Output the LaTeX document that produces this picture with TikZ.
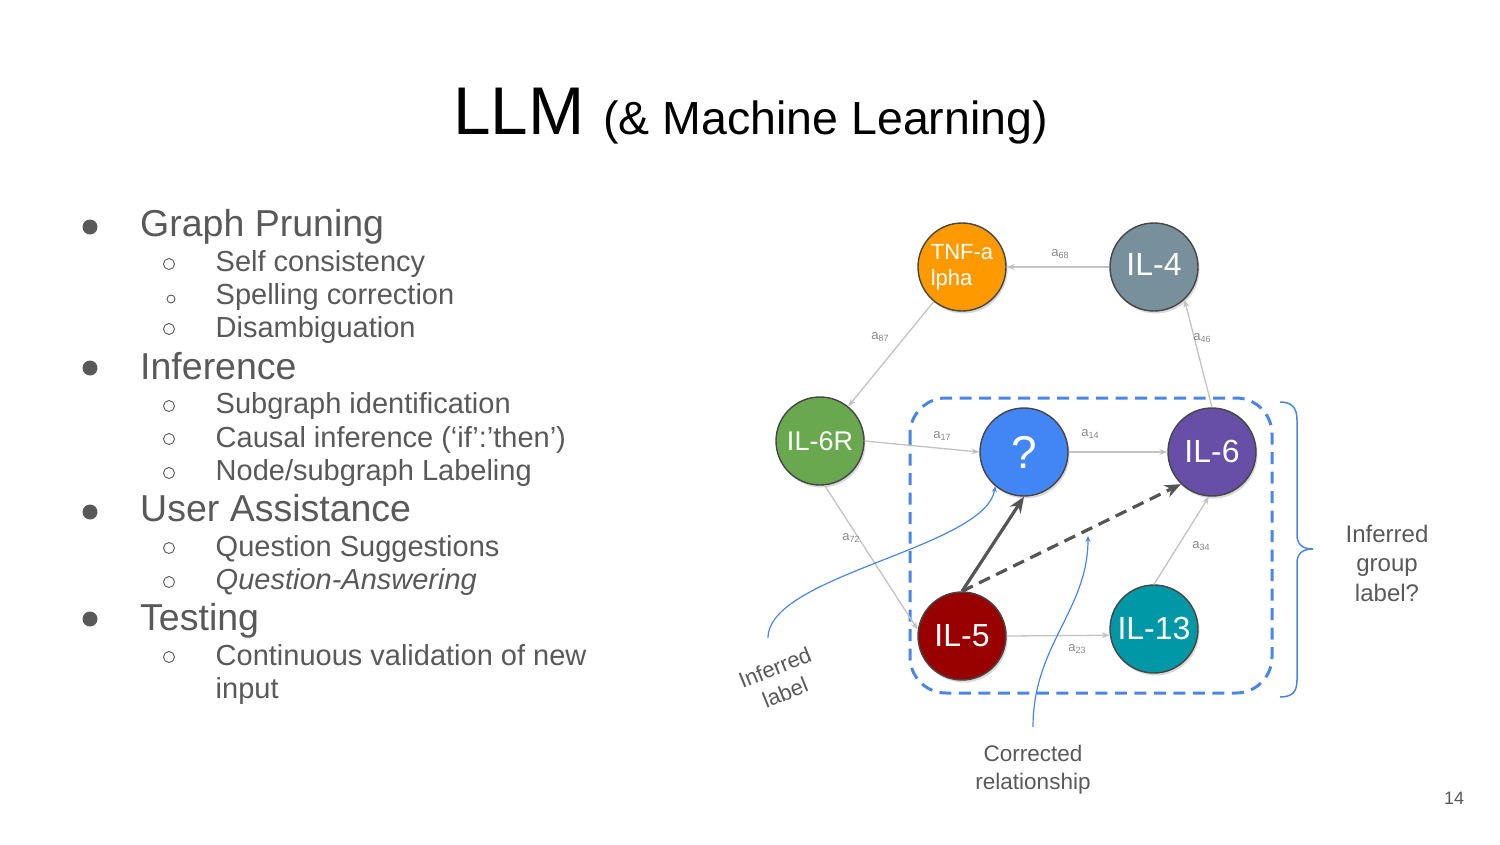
\documentclass[tikz,border=0pt]{standalone}
\usepackage{fontspec}
\setmainfont{Liberation Sans}
\usetikzlibrary{arrows.meta,shadows}
\definecolor{txtgray}{HTML}{595959}
\definecolor{edgegray}{HTML}{C3C3C3}
\definecolor{labgray}{HTML}{8A8A8A}
\definecolor{darkedge}{HTML}{555555}
\definecolor{ringgray}{HTML}{464646}
\definecolor{gblue}{HTML}{4A86E8}
\definecolor{cTNF}{HTML}{FF9900}
\definecolor{cIL4}{HTML}{78909C}
\definecolor{cIL6R}{HTML}{6AA84F}
\definecolor{cQ}{HTML}{4285F4}
\definecolor{cIL6}{HTML}{674EA7}
\definecolor{cIL5}{HTML}{990000}
\definecolor{cIL13}{HTML}{0097A7}
\newcommand{\fsz}[1]{\fontsize{#1}{#1}\selectfont}
\newcommand{\alab}[1]{a\raisebox{-2.5pt}{\fontsize{9}{10}\selectfont #1}}
\begin{document}
\begin{tikzpicture}[x=1pt,y=-1pt,
  gnode/.style={circle, draw=ringgray, line width=1.4pt, minimum size=88pt,
    inner sep=0pt, text=white, font=\fsz{32},
    drop shadow={opacity=0.3, shadow xshift=1.5pt, shadow yshift=-2.5pt}},
  elabel/.style={font=\fsz{13}, text=labgray, inner sep=0pt},
  ledge/.style={draw=edgegray, line width=1.3pt, -{Stealth[length=8pt,width=6pt]}},
  darkarrow/.style={draw=darkedge, line width=3.2pt, -{Stealth[length=16pt,width=13pt]}},
  bcurve/.style={draw=gblue, line width=1.2pt, -{Stealth[length=6pt,width=5pt]}},
  main/.style={anchor=base west, inner sep=0pt, text=txtgray, font=\fsz{37.5}},
  sub/.style={anchor=base west, inner sep=0pt, text=txtgray, font=\fsz{29}},
  note/.style={align=center, text=txtgray, inner sep=0pt},
  dot/.style={fill=txtgray},
  ring/.style={draw=txtgray, line width=0.9pt}
]
\useasboundingbox[fill=white] (0,0) rectangle (1500,844);

% ---- title ----
\node[anchor=base west, inner sep=0pt, font=\fsz{67.5}] (title) at (453,134)
  {LLM {\fsz{46.5}(\& Machine Learning)}};

% ---- bullet list ----
\fill[dot] (90,227) circle (7.5);
\node[main] (b1) at (140,236) {Graph Pruning};
\draw[ring] (169,264) circle (5.5);
\node[sub] (b11) at (215.5,271) {Self consistency};
\draw[ring] (171,299) circle (4);
\node[sub] (b12) at (215.5,304) {Spelling correction};
\draw[ring] (169,329) circle (5.5);
\node[sub] (b13) at (215.5,337) {Disambiguation};

\fill[dot] (90,368) circle (7.5);
\node[main] (b2) at (140,379) {Inference};
\draw[ring] (169,406) circle (5.5);
\node[sub] (b21) at (215.5,413) {Subgraph identification};
\draw[ring] (169,439) circle (5.5);
\node[sub] (b22) at (215.5,447) {Causal inference (‘if’:’then’)};
\draw[ring] (169,473) circle (5.5);
\node[sub] (b23) at (215.5,480) {Node/subgraph Labeling};

\fill[dot] (90,512) circle (7.5);
\node[main] (b3) at (140,521) {User Assistance};
\draw[ring] (169,548) circle (5.5);
\node[sub] (b31) at (215.5,556) {Question Suggestions};
\draw[ring] (169,582) circle (5.5);
\node[sub] (b32) at (215.5,589) {\itshape Question-Answering};

\fill[dot] (90,619) circle (7.5);
\node[main] (b4) at (140,630) {Testing};
\draw[ring] (169,657) circle (5.5);
\node[sub] (b41) at (215.5,665) {Continuous validation of new};
\node[sub] (b41b) at (215.5,698) {input};

% ---- group frame and brace ----
\draw[gblue, line width=3pt, dash pattern=on 12pt off 7.5pt, rounded corners=36pt]
  (910,398) rectangle (1272,693);
\draw[gblue, line width=1.5pt]
  (1280,402) .. controls (1292,402) and (1297,408) .. (1297,420) -- (1297,535)
  .. controls (1297,544) and (1302,549) .. (1313,549)
  .. controls (1302,549) and (1297,554) .. (1297,563) -- (1297,680)
  .. controls (1297,692) and (1292,697) .. (1280,697);

% ---- graph nodes ----
\node[gnode, fill=cTNF, font=\fontsize{22}{26}\selectfont, align=left] (tnf) at (962,267) {TNF-a\\lpha};
\node[gnode, fill=cIL4] (il4) at (1154,267) {\raisebox{5pt}{IL-4}};
\node[gnode, fill=cIL6R, font=\fsz{27}] (il6r) at (820,441) {IL-6R};
\node[gnode, fill=cQ, font=\fsz{46}] (q) at (1024,452) {?};
\node[gnode, fill=cIL6] (il6) at (1212,452) {\raisebox{2pt}{IL-6}};
\node[gnode, fill=cIL5] (il5) at (962,636) {IL-5};
\node[gnode, fill=cIL13] (il13) at (1154,629) {\raisebox{2pt}{IL-13}};

% ---- weighted edges ----
\draw[ledge] (il4.west) -- (tnf.east);
\draw[ledge] (tnf) -- (il6r);
\draw[ledge] (il6.north) -- (il4.-47);
\draw[ledge] (il6r.east) -- (q.west);
\draw[ledge] (q.east) -- (il6.west);
\draw[ledge] (il6r.-84) -- (il5.172);
\draw[ledge] (il13.north) -- (il6.-94);
\draw[ledge] (il5.east) -- (il13.-172);

\node[elabel] (l68) at (1060,254) {\alab{68}};
\node[elabel] (l87) at (880,337) {\alab{87}};
\node[elabel] (l46) at (1202,338) {\alab{46}};
\node[elabel] (l17) at (942,436) {\alab{17}};
\node[elabel] (l14) at (1090,434) {\alab{14}};
\node[elabel] (l72) at (851,538) {\alab{72}};
\node[elabel] (l34) at (1201,546) {\alab{34}};
\node[elabel] (l23) at (1077,649) {\alab{23}};

% ---- inferred relations ----
\draw[darkarrow] (il5.north) -- (q.south);
\draw[darkarrow, dash pattern=on 12pt off 7pt] (il5.north) -- (il6.-134);

% ---- annotations ----
\coordinate (inflab) at (768,638);
\coordinate (corrfoot) at (1033,727);
\coordinate (corrtip) at (1088,536);
\draw[bcurve] (inflab) .. controls (768,575) and (985,548) .. (q.-130);
\draw[bcurve] (corrfoot) .. controls (1033,645) and (1088,610) .. (corrtip);

\node[note, font=\fontsize{22}{27}\selectfont, rotate=22] (ninf) at (780,680) {Inferred\\label};
\node[note, font=\fontsize{22.5}{28}\selectfont] (ncorr) at (1033,770) {Corrected\\relationship};
\node[note, font=\fontsize{24}{29.5}\selectfont] (ngroup) at (1387,563) {Inferred\\group\\label?};

\node[anchor=base, inner sep=0pt, text=txtgray, font=\fsz{18}] (pnum) at (1454,804) {14};
\end{tikzpicture}
\end{document}
